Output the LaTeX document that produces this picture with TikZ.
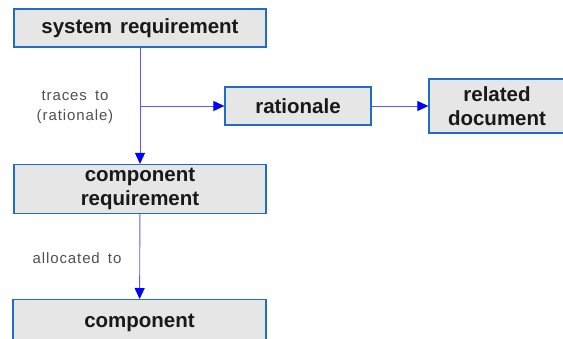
\documentclass[tikz,border=0pt]{standalone}
\usepackage{fontspec}
\setmainfont{Liberation Sans}
\newfontfamily\labelfont[LetterSpace=6,WordSpace=1.6]{Liberation Sans}
\newfontfamily\boxfont[WordSpace=1.4]{Liberation Sans}
\usetikzlibrary{arrows.meta}

\definecolor{boxgray}{RGB}{230,230,230}
\definecolor{boxblue}{RGB}{30,110,200}
\definecolor{linkblue}{RGB}{90,90,255}
\definecolor{textgray}{RGB}{80,80,80}

\begin{document}
\begin{tikzpicture}[x=1pt,y=-1pt,
    -{Triangle[length=11pt,width=10pt,color=blue]},
    draw=linkblue,line width=0.9pt]
  \tikzstyle{block}=[rectangle,draw=boxblue,fill=boxgray,line width=1.3pt,
    align=center,inner sep=0pt,text=black!90,
    font=\boxfont\bfseries\fontsize{20.5}{23.5}\selectfont]
  \tikzstyle{tag}=[text=textgray,align=center,
    font=\labelfont\fontsize{15}{20}\selectfont]
  \useasboundingbox (0,0) rectangle (563,338);
  \node[block,minimum width=252pt,minimum height=38pt] (sysreq) at (140,28) {system requirement};
  \node[block,minimum width=146pt,minimum height=38pt] (rat) at (298,106) {rationale};
  \node[block,minimum width=136pt,minimum height=54pt] (doc) at (497,106) {related\\document};
  \node[block,minimum width=252pt,minimum height=49pt] (compreq) at (140,189) {component\\requirement};
  \node[block,minimum width=253pt,anchor=north,text height=20pt,text depth=30pt,
    inner ysep=8pt] (comp) at (139.5,299) {component};
  \coordinate (branch) at (sysreq.south |- rat.west);
  \draw (sysreq) -- (compreq);
  \draw (branch) -- (rat);
  \draw (rat) -- (doc);
  \draw (compreq) -- (comp);
  \node[tag] (tracelbl) at (75,107) {traces to\\(rationale)};
  \node[tag] (alloclbl) at (77,258) {allocated to};
\end{tikzpicture}
\end{document}
